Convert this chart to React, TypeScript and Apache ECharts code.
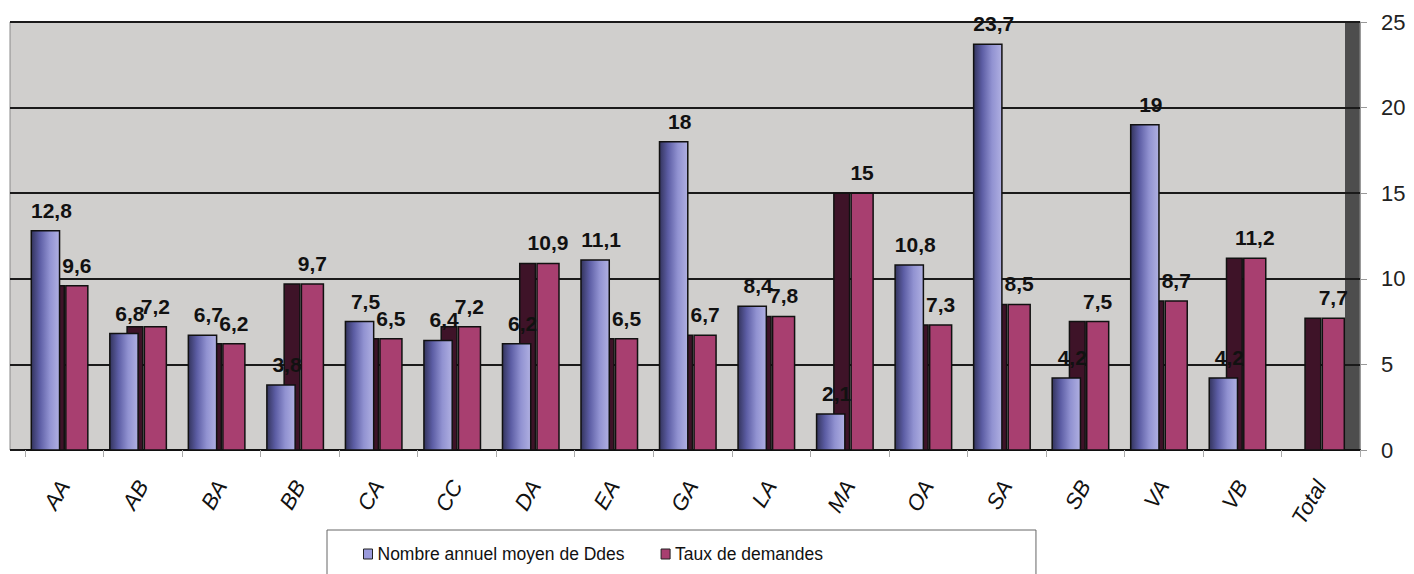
import React, { useEffect, useRef } from 'react';
import * as echarts from 'echarts';

const categories = ['AA', 'AB', 'BA', 'BB', 'CA', 'CC', 'DA', 'EA', 'GA', 'LA', 'MA', 'OA', 'SA', 'SB', 'VA', 'VB', 'Total'];
const nombreAnnuel: (number | null)[] = [12.8, 6.8, 6.7, 3.8, 7.5, 6.4, 6.2, 11.1, 18, 8.4, 2.1, 10.8, 23.7, 4.2, 19, 4.2, null];
const tauxDemandes: number[] = [9.6, 7.2, 6.2, 9.7, 6.5, 7.2, 10.9, 6.5, 6.7, 7.8, 15, 7.3, 8.5, 7.5, 8.7, 11.2, 7.7];
const seriesNames = ['Nombre annuel moyen de Ddes', 'Taux de demandes'];
const yMin = 0;
const yMax = 25;
const yStep = 5;

const FONT = '"Liberation Sans", Arial, sans-serif';

const blueGradient = () =>
  new echarts.graphic.LinearGradient(0, 0, 1, 0, [
    { offset: 0, color: '#33345d' },
    { offset: 0.3, color: '#5c5da4' },
    { offset: 0.65, color: '#9192d1' },
    { offset: 1, color: '#b0b0e2' },
  ]);

const makeRender =
  (from: number, to: number, fill: any, withLabel: boolean, labelDx: number) =>
  (params: any, api: any) => {
    const idx = api.value(0);
    const v = api.value(1);
    if (v == null || isNaN(v)) return null;
    const top = api.coord([idx, v]);
    const base = api.coord([idx, 0]);
    const bw = api.size([1, 0])[0];
    const start = top[0] - bw / 2;
    const x = start + bw * from;
    const w = bw * (to - from);
    const children: any[] = [
      {
        type: 'rect',
        shape: { x, y: top[1], width: w, height: base[1] - top[1] },
        style: { fill: typeof fill === 'function' ? fill() : fill, stroke: '#111', lineWidth: 1.5 },
      },
    ];
    if (withLabel) {
      children.push({
        type: 'text',
        style: {
          text: String(v).replace('.', ','),
          x: x + w / 2 + labelDx,
          y: top[1] - 10,
          textAlign: 'center',
          textVerticalAlign: 'bottom',
          font: `bold 21px ${FONT}`,
          fill: '#111',
        },
      });
    }
    return { type: 'group', children };
  };

export default function App() {
  const ref = useRef<HTMLDivElement>(null);
  useEffect(() => {
    if (!ref.current) return;
    const chart = echarts.init(ref.current, undefined, { renderer: 'svg' });
    const blueData = nombreAnnuel
      .map((v, i) => (v == null ? null : [i, v]))
      .filter((d) => d !== null);
    const taux = tauxDemandes.map((v, i) => [i, v]);
    chart.setOption({
      animation: false,
      backgroundColor: '#ffffff',
      textStyle: { fontFamily: FONT },
      grid: [
        { left: 25, right: 54, top: 22, bottom: 124, containLabel: false },
        {
          left: 10,
          right: 54,
          top: 22,
          bottom: 124,
          show: true,
          borderColor: '#8a8a8a',
          borderWidth: 1,
          backgroundColor: new echarts.graphic.LinearGradient(0, 0, 1, 0, [
            { offset: 0, color: '#d0cfcd' },
            { offset: 0.989, color: '#d0cfcd' },
            { offset: 0.989, color: '#4d4d4d' },
            { offset: 1, color: '#4d4d4d' },
          ]),
        },
      ],
      xAxis: [
        {
          type: 'category',
          gridIndex: 0,
          data: categories,
          axisLine: { show: true, lineStyle: { color: '#111', width: 2 } },
          axisTick: { show: true, length: 7, lineStyle: { color: '#aaa', width: 1 } },
          axisLabel: {
            rotate: 60,
            margin: 32,
            fontSize: 22,
            fontStyle: 'italic',
            color: '#111',
            fontFamily: FONT,
            interval: 0,
          },
        },
        { type: 'value', gridIndex: 1, show: false, min: 0, max: 1 },
      ],
      yAxis: [
        {
          type: 'value',
          gridIndex: 0,
          position: 'right',
          min: yMin,
          max: yMax,
          interval: yStep,
          axisLine: { show: true, lineStyle: { color: '#999', width: 1 } },
          axisTick: { show: true, length: 7, lineStyle: { color: '#999' } },
          axisLabel: { fontSize: 22, color: '#222', margin: 21, fontFamily: FONT },
          splitLine: { show: false },
        },
        {
          type: 'value',
          gridIndex: 1,
          min: yMin,
          max: yMax,
          interval: yStep,
          axisLine: { show: false },
          axisTick: { show: false },
          axisLabel: { show: false },
          splitLine: { show: true, lineStyle: { color: '#1a1a1a', width: 2 } },
        },
      ],
      legend: {
        data: seriesNames,
        left: 327,
        top: 530,
        padding: [15, 213, 20, 36],
        borderColor: '#666',
        borderWidth: 1,
        itemGap: 36,
        itemWidth: 9,
        itemHeight: 10,
        icon: 'rect',
        itemStyle: { borderColor: '#222', borderWidth: 1 },
        textStyle: { fontSize: 17.5, color: '#111', fontFamily: FONT },
      },
      series: [
        {
          name: 'side',
          type: 'custom',
          xAxisIndex: 0,
          yAxisIndex: 0,
          renderItem: makeRender(0.3, 0.5, '#3e1328', false, 0),
          data: taux,
          encode: { x: 0, y: 1 },
          itemStyle: { color: '#3e1328' },
        },
        {
          name: seriesNames[0],
          type: 'custom',
          xAxisIndex: 0,
          yAxisIndex: 0,
          renderItem: makeRender(0.08, 0.44, blueGradient, true, 6),
          data: blueData,
          encode: { x: 0, y: 1 },
          itemStyle: { color: '#9b9bdc' },
        },
        {
          name: seriesNames[1],
          type: 'custom',
          xAxisIndex: 0,
          yAxisIndex: 0,
          renderItem: makeRender(0.52, 0.8, '#a83f70', true, 0),
          data: taux,
          encode: { x: 0, y: 1 },
          itemStyle: { color: '#a83f70' },
        },
      ],
    });
    return () => chart.dispose();
  }, []);
  return <div ref={ref} style={{ position: 'fixed', left: 0, top: 0, width: 1414, height: 574 }} />;
}
